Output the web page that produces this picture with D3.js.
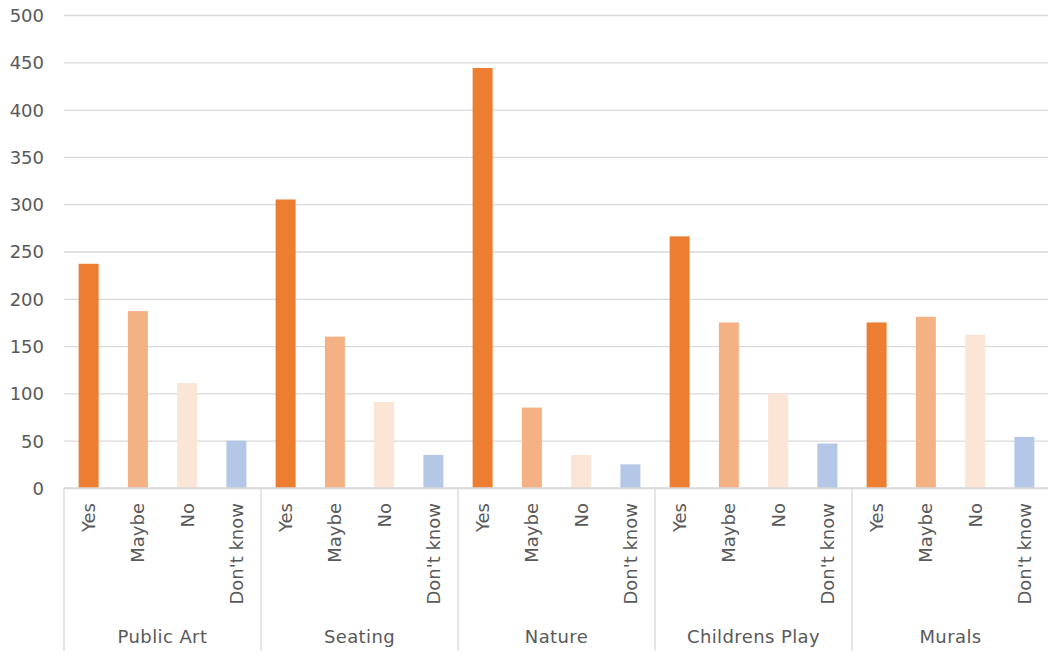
<!DOCTYPE html>
<html><head><meta charset="utf-8">
<script src="https://cdn.jsdelivr.net/npm/d3@7"></script>
<style>
html,body{margin:0;padding:0;background:#fff;}
svg{display:block;font-family:"DejaVu Sans",sans-serif;}
</style></head>
<body>
<svg id="chart" width="1048" height="653"></svg>
<script>
const groups = ["Public Art","Seating","Nature","Childrens Play","Murals"];
const answers = ["Yes","Maybe","No","Don't know"];
const yesValues = [237, 305, 444, 266, 175];
const maybeValues = [187, 160, 85, 175, 181];
const noValues = [111, 91, 35, 100, 162];
const dontKnowValues = [50, 35, 25, 47, 54];
const yTicks = [0,50,100,150,200,250,300,350,400,450,500];
const colors = ["#ED7D31","#F4B183","#FBE5D6","#B4C7E7"];

const seriesValues = [yesValues, maybeValues, noValues, dontKnowValues];
const data = [];
groups.forEach((g,gi)=>answers.forEach((a,ai)=>data.push({group:g, answer:a, ai, value:seriesValues[ai][gi]})));

(function(){
const svg = d3.select("#chart");
const mLeft = 64, mRight = 1049, mTop = 15, mBottom = 488;
const x0 = d3.scaleBand().domain(groups).range([mLeft,mRight]).padding(0);
const x1 = d3.scaleBand().domain(answers).range([0,x0.bandwidth()]).paddingInner(0.594).paddingOuter(0.297);
const y = d3.scaleLinear().domain([0,500]).range([mBottom,mTop]);
const textColor = "#595959", gridColor = "#d9d9d9";

// gridlines
const yAxis = d3.axisLeft(y).tickValues(yTicks).tickSize(-(mRight-mLeft)).tickPadding(20);
const gy = svg.append("g").attr("transform",`translate(${mLeft},0)`).call(yAxis);
gy.select(".domain").remove();
gy.selectAll(".tick line").attr("stroke",gridColor).attr("stroke-width",1.3);
gy.selectAll(".tick text").attr("fill",textColor).attr("font-size",18).attr("font-family","DejaVu Sans").attr("dy","0.36em");

// bars
svg.append("g").selectAll("rect").data(data).join("rect")
  .attr("x",d=>x0(d.group)+x1(d.answer))
  .attr("y",d=>y(d.value))
  .attr("width",x1.bandwidth())
  .attr("height",d=>y(0)-y(d.value))
  .attr("fill",d=>colors[d.ai]);

// baseline
svg.append("line").attr("x1",mLeft).attr("x2",mRight).attr("y1",mBottom).attr("y2",mBottom)
  .attr("stroke",gridColor).attr("stroke-width",1.3);

// group separators
const seps = groups.map(g=>x0(g)).concat([mRight]);
svg.append("g").selectAll("line").data(seps).join("line")
  .attr("x1",d=>d).attr("x2",d=>d).attr("y1",mBottom).attr("y2",651)
  .attr("stroke",gridColor).attr("stroke-width",1.3);

// answer labels (rotated)
svg.append("g").selectAll("text").data(data).join("text")
  .attr("transform",d=>`translate(${x0(d.group)+x1(d.answer)+x1.bandwidth()/2},503) rotate(-90)`)
  .attr("text-anchor","end").attr("dy","0.36em")
  .attr("fill",textColor).attr("font-size",18)
  .text(d=>d.answer);

// group labels
svg.append("g").selectAll("text").data(groups).join("text")
  .attr("x",d=>x0(d)+x0.bandwidth()/2).attr("y",643)
  .attr("text-anchor","middle").attr("fill",textColor).attr("font-size",18)
  .attr("letter-spacing","0.4px")
  .text(d=>d);
})();
</script>
</body></html>
